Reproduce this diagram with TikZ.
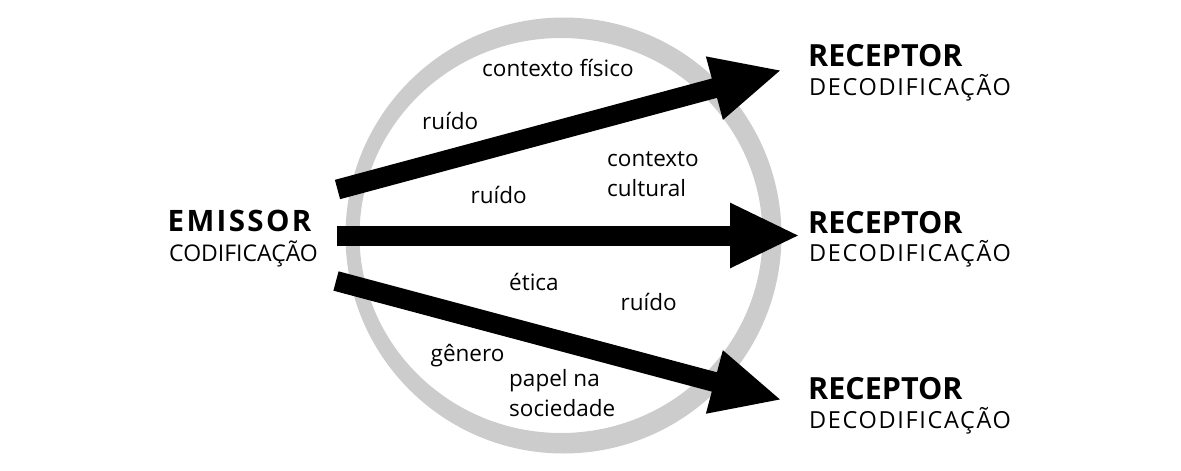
\documentclass[tikz,border=0pt]{standalone}
\usepackage{fontspec}
\setmainfont{Open Sans}
\usetikzlibrary{arrows.meta}
\definecolor{ringgray}{HTML}{CCCCCC}
\tikzset{
  flow/.style={line width=20pt, -{Triangle[length=70pt,width=60pt]}},
  lbl/.style={anchor=base west, inner sep=0pt, font=\fontsize{22.5}{26}\selectfont},
  headbold/.style={anchor=base west, inner sep=0pt, font=\fontsize{30.5}{33}\selectfont\bfseries},
  subcap/.style={anchor=base west, inner sep=0pt, font=\fontsize{23.5}{27}\selectfont\addfontfeature{LetterSpace=7}}
}
\begin{document}
\begin{tikzpicture}[x=1pt,y=-1pt]
\path[use as bounding box] (0,0) rectangle (1181,471);
% ring
\fill[ringgray, even odd rule] (563.5,235.5) circle[radius=218] (561,235.5) ellipse[x radius=201.5, y radius=197.5];
% end points
\coordinate (t1) at (337.5,189.5);
\coordinate (h1) at (782,70);
\coordinate (t2) at (336.7,235.5);
\coordinate (h2) at (800,235.5);
\coordinate (t3) at (336,281);
\coordinate (h3) at (782,400);
\draw[flow] (t1) -- (h1);
\draw[flow] (t2) -- (h2);
\draw[flow] (t3) -- (h3);
% emitter
\node[anchor=base west, inner sep=0pt, font=\fontsize{29.5}{30}\selectfont\bfseries\addfontfeature{LetterSpace=8}] (em) at (167.5,231.7) {EMISSOR};
\node[anchor=base west, inner sep=0pt, font=\fontsize{23}{30}\selectfont] (cod) at (169,261) {CODIFICAÇÃO};
% receptors
\node[headbold] (r1) at (808,66.7) {RECEPTOR};
\node[subcap] (d1) at (809,95) {DECODIFICAÇÃO};
\node[headbold] (r2) at (808,233.3) {RECEPTOR};
\node[subcap] (d2) at (809,261.7) {DECODIFICAÇÃO};
\node[headbold] (r3) at (808,399.3) {RECEPTOR};
\node[subcap] (d3) at (809,428.3) {DECODIFICAÇÃO};
% labels
\node[lbl] (cf) at (482,76) {contexto físico};
\node[lbl] (ru1) at (422,129.3) {ruído};
\node[lbl] (cc1) at (607,166.7) {contexto};
\node[lbl] (cc2) at (607,196.7) {cultural};
\node[lbl] (ru2) at (470.5,203.3) {ruído};
\node[lbl] (et) at (509,290.7) {ética};
\node[lbl] (ru3) at (620.5,310) {ruído};
\node[lbl] (ge) at (430.5,361) {gênero};
\node[lbl] (pa1) at (509,386.7) {papel na};
\node[lbl] (pa2) at (509,416.7) {sociedade};
\end{tikzpicture}
\end{document}
